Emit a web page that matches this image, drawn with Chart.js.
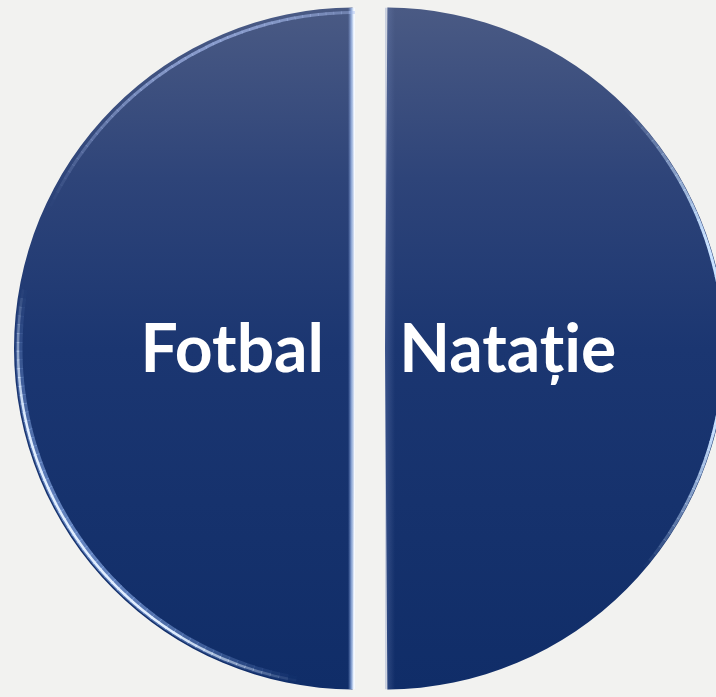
<!DOCTYPE html>
<html>
<head>
<meta charset="utf-8">
<script src="https://cdn.jsdelivr.net/npm/chart.js@4/dist/chart.umd.min.js"></script>
<style>
  html, body { margin: 0; padding: 0; background: #f2f2f0; }
  #wrap { width: 716px; height: 697px; }
</style>
</head>
<body>
<div id="wrap"><canvas id="pie"></canvas></div>
<script>
// DATE
const categories = ['Fotbal', 'Natație'];
const values = [50, 50];

// gradient top -> bottom
function fillGradient(context) {
  const chart = context.chart;
  const area = chart.chartArea;
  if (!area) return '#1b3672';
  const g = chart.ctx.createLinearGradient(0, 8, 0, 690);
  g.addColorStop(0, '#4a5a84');
  g.addColorStop(0.25, '#2e4479');
  g.addColorStop(0.5, '#1b3671');
  g.addColorStop(1, '#102d68');
  return g;
}

// rim light: many short segments, alpha rises and falls
function drawRim(ctx, cx, cy, r, a0, a1, alpha, rgb, width) {
  const deg = Math.PI / 180;
  const steps = 60;
  ctx.lineWidth = width;
  for (let k = 0; k < steps; k++) {
    const t = (k + 0.5) / steps;
    const s = a0 + (a1 - a0) * k / steps;
    const e = a0 + (a1 - a0) * (k + 1) / steps;
    ctx.strokeStyle = 'rgba(' + rgb + ',' + Math.min(1, alpha * Math.sin(Math.PI * t)).toFixed(3) + ')';
    ctx.beginPath();
    ctx.arc(cx, cy, r, s * deg, e * deg + 0.002);
    ctx.stroke();
  }
}

// edge highlights + labels
const bevelPlugin = {
  id: 'bevel',
  afterDatasetsDraw(chart) {
    const ctx = chart.ctx;
    const meta = chart.getDatasetMeta(0);
    meta.data.forEach(function(arc, i) {
      const p = arc.getProps(['x', 'y', 'startAngle', 'endAngle', 'outerRadius']);
      const mid = (p.startAngle + p.endAngle) / 2;
      const off = arc.options.offset / 4;
      const cx = p.x + Math.cos(mid) * off;
      const cy = p.y + Math.sin(mid) * off;
      const r = p.outerRadius + off;
      ctx.save();
      ctx.beginPath();
      ctx.moveTo(cx, cy);
      ctx.arc(cx, cy, r, p.startAngle, p.endAngle);
      ctx.closePath();
      ctx.clip();
      if (i === 0) {
        // straight edge highlight on the right
        const gx = ctx.createLinearGradient(cx - 7, 0, cx, 0);
        gx.addColorStop(0, 'rgba(160,190,255,0)');
        gx.addColorStop(0.5, 'rgba(190,215,255,0.7)');
        gx.addColorStop(1, 'rgba(255,255,255,1)');
        ctx.fillStyle = gx;
        ctx.fillRect(cx - 7, cy - r, 7, 2 * r);
        // rims
        drawRim(ctx, cx, cy, r - 5, 100, 190, 0.6, '150,185,245', 7);
        drawRim(ctx, cx, cy, r - 4, 100, 190, 1.4, '225,238,255', 2.5);
        drawRim(ctx, cx, cy, r - 5, 205, 285, 0.7, '165,185,235', 3);
      } else {
        // straight edge shade on the left
        const gx = ctx.createLinearGradient(cx, 0, cx + 10, 0);
        gx.addColorStop(0, 'rgba(120,140,190,0.35)');
        gx.addColorStop(1, 'rgba(120,140,190,0)');
        ctx.fillStyle = gx;
        ctx.fillRect(cx, cy - r, 10, 2 * r);
        drawRim(ctx, cx, cy, r - 2, -45, 40, 1.2, '200,225,255', 3);
      }
      ctx.restore();

      // label
      ctx.save();
      ctx.fillStyle = '#ffffff';
      ctx.font = 'bold 66px Lato';
      ctx.textAlign = 'center';
      ctx.textBaseline = 'middle';
      const lr = r * 0.36;
      ctx.fillText(chart.data.labels[i], cx + Math.cos(mid) * lr, cy + Math.sin(mid) * lr + 2);
      ctx.restore();
    });
  }
};

const ctx = document.getElementById('pie');
const data = {
  labels: categories,
  datasets: [{
    data: values,
    backgroundColor: fillGradient,
    borderWidth: 0,
    offset: 60
  }]
};
const config = {
  type: 'pie',
  data,
  options: {
    responsive: true,
    maintainAspectRatio: false,
    animation: false,
    rotation: 180,
    radius: 326, // drawn radius = 326 + offset/4
    layout: { padding: { left: 24 } },
    plugins: {
      legend: { display: false },
      tooltip: { enabled: false }
    }
  },
  plugins: [bevelPlugin]
};
const myChart = new Chart(ctx, config);
</script>
</body>
</html>
